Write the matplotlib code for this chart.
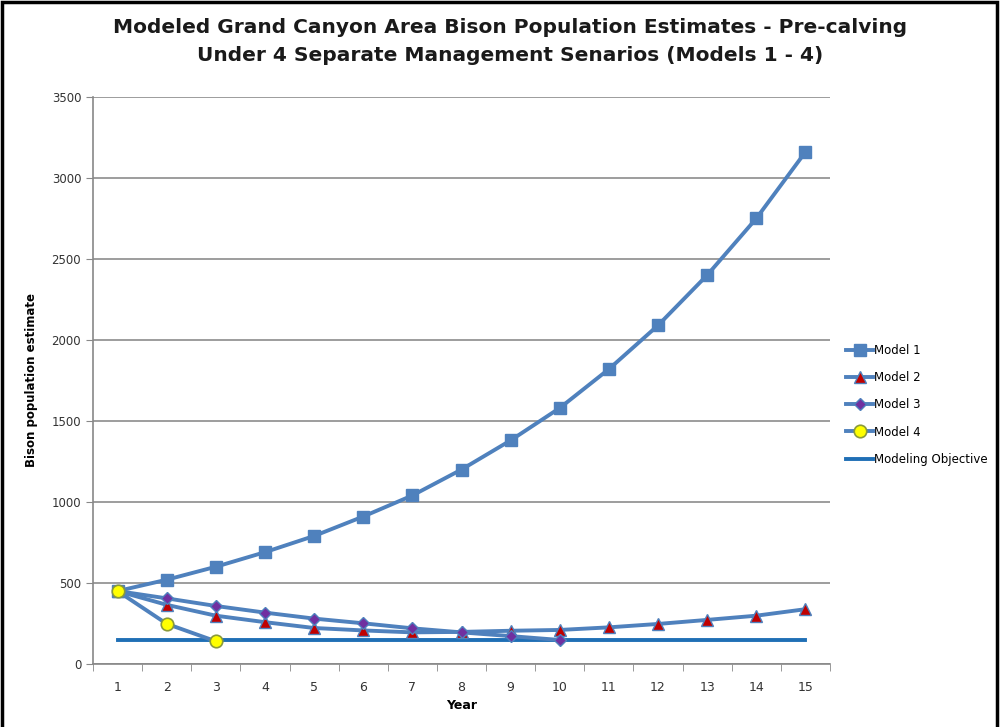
import matplotlib.pyplot as plt
from matplotlib.patches import Rectangle

years = list(range(1, 16))
model1 = [450, 520, 600, 690, 790, 910, 1040, 1200, 1380, 1580, 1820, 2090, 2400, 2750, 3160]
model2 = [450, 365, 298, 258, 222, 207, 195, 198, 205, 210, 226, 247, 272, 298, 338]
model3 = [450, 405, 358, 317, 280, 251, 220, 195, 172, 148]
model4 = [450, 248, 140]
objective = 150

BLUE = '#4F81BD'
OBJ = '#1F6FB5'

fig = plt.figure(figsize=(10, 7.27), dpi=100)
ax = fig.add_axes([0.093, 0.0867, 0.737, 0.78])

ax.plot(years, model1, '-s', color=BLUE, lw=2.8, markersize=8,
        markerfacecolor=BLUE, markeredgecolor=BLUE, label='Model 1', zorder=3)
ax.plot(years, model2, '-^', color=BLUE, lw=2.8, markersize=8,
        markerfacecolor='#C00000', markeredgecolor=BLUE, label='Model 2', zorder=4)
ax.plot(years[:len(model3)], model3, '-D', color=BLUE, lw=2.8, markersize=6.5,
        markerfacecolor='#7030A0', markeredgecolor=BLUE, label='Model 3', zorder=5)
ax.plot(years[:len(model4)], model4, '-o', color=BLUE, lw=2.8, markersize=9,
        markerfacecolor='#FFFF00', markeredgecolor='#8A9A3A', markeredgewidth=1.2,
        label='Model 4', zorder=6)
ax.plot([years[0], years[-1]], [objective, objective], '-', color=OBJ, lw=2.8,
        label='Modeling Objective', zorder=2)

ax.set_xlim(0.5, 15.5)
ax.set_ylim(0, 3500)
ax.set_yticks(range(0, 3501, 500))
ax.set_xticks(years)
ax.set_xticks([i + 0.5 for i in range(0, 16)], minor=True)
ax.tick_params(axis='x', which='major', length=0, labelsize=9, colors='#333333', pad=12)
ax.tick_params(axis='x', which='minor', length=5, direction='out', color='#888888')
ax.tick_params(axis='y', length=5, direction='out', color='#888888', labelsize=8.5,
               labelcolor='#333333')
ax.grid(axis='y', color='#8c8c8c', lw=1.2)
ax.set_axisbelow(True)
for s in ['top', 'right']:
    ax.spines[s].set_visible(False)
for s in ['left', 'bottom']:
    ax.spines[s].set_color('#888888')
    ax.spines[s].set_linewidth(1.2)

ax.set_xlabel('Year', fontsize=9, fontweight='bold', labelpad=4)
ax.set_ylabel('Bison population estimate', fontsize=8.5, fontweight='bold', labelpad=10)

fig.text(0.51, 0.975,
         'Modeled Grand Canyon Area Bison Population Estimates - Pre-calving\n'
         'Under 4 Separate Management Senarios (Models 1 - 4)',
         fontsize=14.5, fontweight='bold', ha='center', va='top', linespacing=1.6,
         color='#1a1a1a')

fig.legend(loc='center left', bbox_to_anchor=(0.846, 0.443), frameon=False,
           fontsize=8.5, handlelength=2.3, handletextpad=0.1, labelspacing=1.2,
           borderaxespad=0, borderpad=0)

fig.add_artist(Rectangle((0.002, -0.01), 0.995, 1.007, transform=fig.transFigure,
                         fill=False, edgecolor='black', lw=2.5))

fig.savefig('out.png', dpi=100)
